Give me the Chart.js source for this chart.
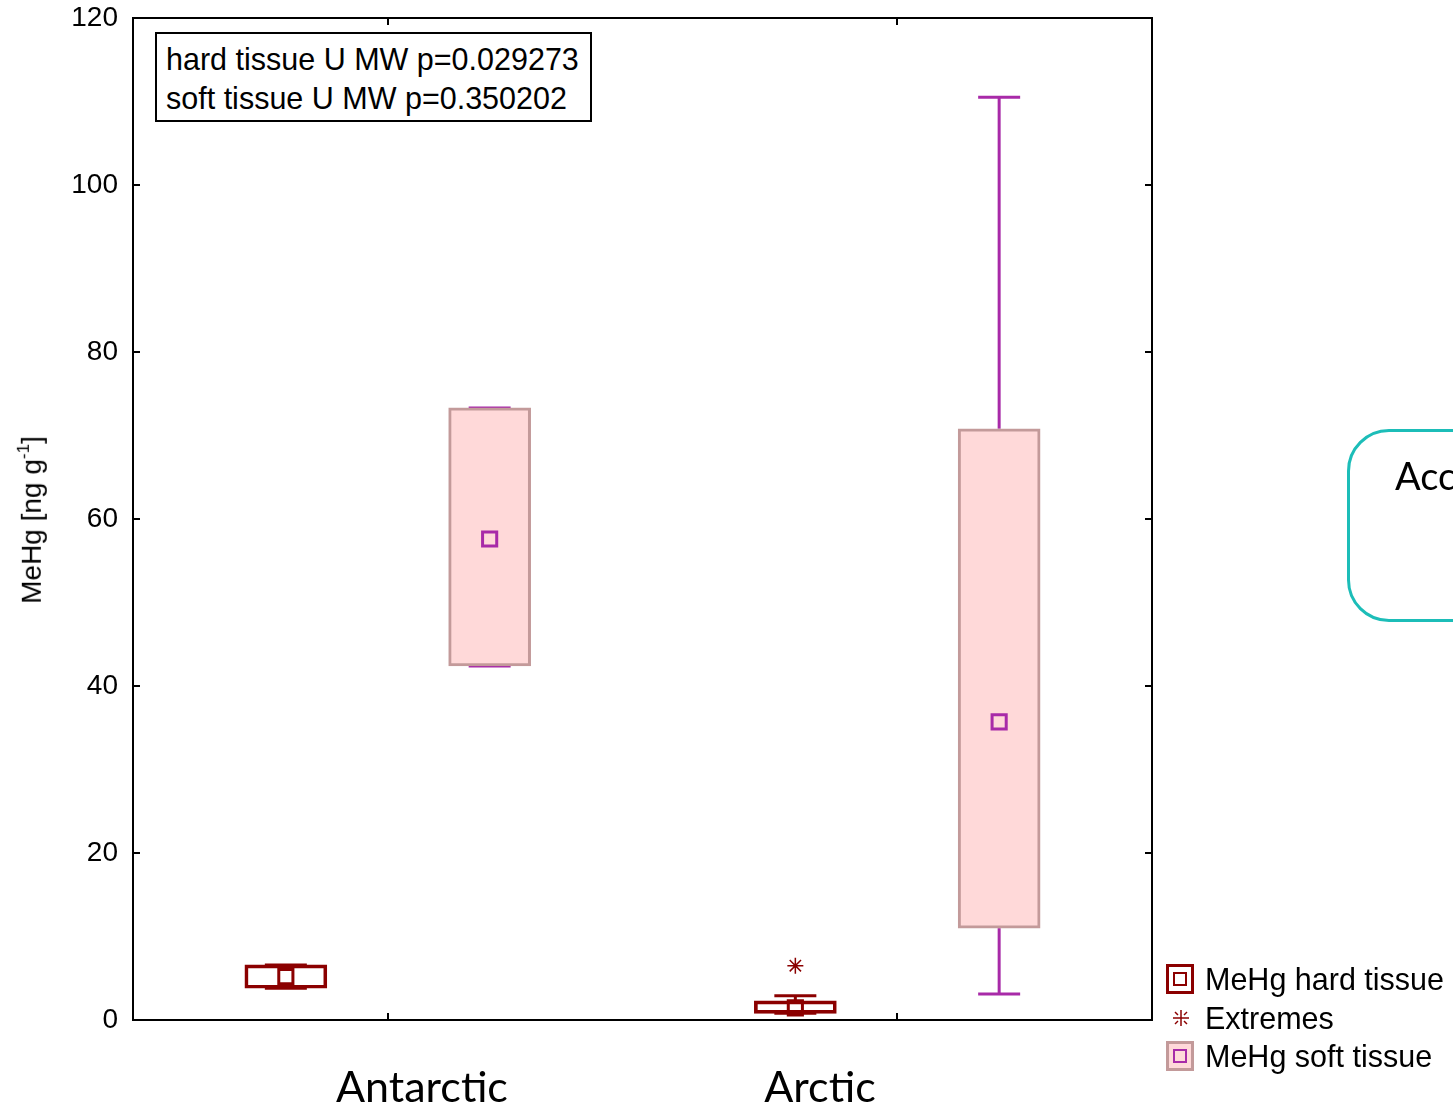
<!DOCTYPE html>
<html>
<head>
<meta charset="utf-8">
<script src="https://cdn.jsdelivr.net/npm/chart.js@4.4.1/dist/chart.umd.min.js"></script>
<style>
  html, body { margin:0; padding:0; background:#fff; width:1453px; height:1108px; overflow:hidden; }
  #wrap { position:absolute; left:0; top:0; width:1453px; height:1108px; }
  canvas { position:absolute; left:0; top:0; }
  #note { position:absolute; left:155px; top:32px; width:433px; height:86px; border:2px solid #000; background:#fff; box-sizing:content-box; }
  #note div { position:absolute; left:9px; font-family:"Liberation Sans", Arial, sans-serif; font-size:30.5px; line-height:30px; white-space:nowrap; }
  #ylab { position:absolute; left:32px; top:520px; transform:translate(-50%,-50%) rotate(-90deg); font-family:"Liberation Sans", Arial, sans-serif; font-size:28px; white-space:nowrap; }
  #ylab sup { font-size:17px; position:relative; top:-2px; }
  .cat { position:absolute; top:1060px; font-family:Lato, "Open Sans", sans-serif; font-size:43px; transform:translateX(-50%); white-space:nowrap; }
  .leg { position:absolute; font-family:"Liberation Sans", Arial, sans-serif; font-size:30.5px; white-space:nowrap; transform:translateY(-50%); }
  .icon { position:absolute; box-sizing:border-box; }
  #callout { position:absolute; left:1347px; top:429px; width:200px; height:193px; border:3px solid #1CBDB8; border-radius:42px; box-sizing:border-box; }
  #callout span { position:absolute; left:45px; top:20px; font-family:Lato, "Open Sans", sans-serif; font-size:38px; }
</style>
</head>
<body>
<div id="wrap">
  <canvas id="c" width="1453" height="1108"></canvas>
</div>
<script>
// ---- data ----
const categories = ['Antarctic', 'Arctic'];
const seriesNames = ['MeHg hard tissue', 'MeHg soft tissue'];
const hardQ1 = [3.8, 0.8];
const hardQ3 = [6.6, 2.3];
const hardMedian = [5.2, 1.45];
const hardMin = [3.8, 0.8];
const hardMax = [6.6, 2.9];
const hardExtremes = [null, 6.5];
const softQ1 = [42.4, 11.0];
const softQ3 = [73.3, 70.8];
const softMedian = [57.6, 35.7];
const softMin = [42.4, 3.1];
const softMax = [73.3, 110.5];
const yTicks = [0, 20, 40, 60, 80, 100, 120];
const noteLines = ['hard tissue U MW p=0.029273', 'soft tissue U MW p=0.350202'];
const yTitle = 'MeHg [ng g';

// ---- styling ----
const HARD = '#8B0000';
const SOFT_FILL = '#FFD9D9';
const SOFT_EDGE = '#C39A9A';
const SOFT_MARK = '#A82AA8';
const GROUP_OFFSET = 0.2;

const catPos = categories.map((c, i) => i + 0.5);
const hardPos = catPos.map(p => p - GROUP_OFFSET);
const softPos = catPos.map(p => p + GROUP_OFFSET);

const framePlugin = {
  id: 'frame',
  beforeDatasetsDraw(chart) {
    const ctx = chart.ctx, y = chart.scales.y, x = chart.scales.x;
    const draw = (pos, q1, q3, mn, mx, color) => {
      ctx.save();
      ctx.strokeStyle = color; ctx.lineWidth = 3;
      for (let i = 0; i < pos.length; i++) {
        const px = x.getPixelForValue(pos[i]);
        [[q3[i], mx[i]], [q1[i], mn[i]]].forEach(([a, b]) => {
          ctx.beginPath();
          ctx.moveTo(px, y.getPixelForValue(a));
          ctx.lineTo(px, y.getPixelForValue(b));
          ctx.stroke();
          ctx.beginPath();
          ctx.moveTo(px - 21, y.getPixelForValue(b));
          ctx.lineTo(px + 21, y.getPixelForValue(b));
          ctx.stroke();
        });
      }
      ctx.restore();
    };
    draw(hardPos, hardQ1, hardQ3, hardMin, hardMax, HARD);
    draw(softPos, softQ1, softQ3, softMin, softMax, SOFT_MARK);
  },
  afterDraw(chart) {
    const ctx = chart.ctx, a = chart.chartArea, y = chart.scales.y, x = chart.scales.x;
    ctx.save();
    ctx.strokeStyle = '#000'; ctx.lineWidth = 2;
    ctx.strokeRect(a.left, a.top, a.right - a.left, a.bottom - a.top);
    ctx.beginPath();
    yTicks.forEach(v => {
      const py = Math.round(y.getPixelForValue(v));
      ctx.moveTo(a.left, py); ctx.lineTo(a.left + 7, py);
      ctx.moveTo(a.right, py); ctx.lineTo(a.right - 7, py);
    });
    catPos.forEach(p => {
      const px = Math.round(x.getPixelForValue(p));
      ctx.moveTo(px, a.top); ctx.lineTo(px, a.top + 7);
      ctx.moveTo(px, a.bottom); ctx.lineTo(px, a.bottom - 7);
    });
    ctx.stroke();
    ctx.restore();
  }
};

new Chart(document.getElementById('c'), {
  type: 'bar',
  data: {
    datasets: [
      {
        label: seriesNames[0],
        data: categories.map((c, i) => ({ x: hardPos[i], y: [hardQ1[i], hardQ3[i]] })),
        backgroundColor: 'rgba(255,255,255,0)',
        borderColor: HARD, borderWidth: 3, borderSkipped: false,
        barThickness: 82, grouped: false, order: 3
      },
      {
        label: seriesNames[1],
        data: categories.map((c, i) => ({ x: softPos[i], y: [softQ1[i], softQ3[i]] })),
        backgroundColor: SOFT_FILL,
        borderColor: SOFT_EDGE, borderWidth: 3, borderSkipped: false,
        barThickness: 82, grouped: false, order: 3
      },
      {
        type: 'scatter', label: 'hard median',
        data: categories.map((c, i) => ({ x: hardPos[i], y: hardMedian[i] })),
        pointStyle: 'rect', pointRadius: 10, pointBorderWidth: 3,
        pointBorderColor: HARD, pointBackgroundColor: 'rgba(0,0,0,0)', showLine: false, order: 1
      },
      {
        type: 'scatter', label: 'soft median',
        data: categories.map((c, i) => ({ x: softPos[i], y: softMedian[i] })),
        pointStyle: 'rect', pointRadius: 10, pointBorderWidth: 3,
        pointBorderColor: SOFT_MARK, pointBackgroundColor: 'rgba(0,0,0,0)', showLine: false, order: 1
      },
      {
        type: 'scatter', label: 'Extremes',
        data: categories.map((c, i) => hardExtremes[i] === null ? null : ({ x: hardPos[i], y: hardExtremes[i] })).filter(p => p),
        pointStyle: 'star', pointRadius: 8, pointBorderWidth: 1.5,
        pointBorderColor: HARD, pointBackgroundColor: HARD, showLine: false, order: 1
      }
    ]
  },
  options: {
    responsive: false,
    animation: false,
    layout: { padding: { left: 0, top: 18, right: 301, bottom: 0 } },
    plugins: { legend: { display: false }, tooltip: { enabled: false } },
    scales: {
      x: {
        type: 'linear', min: 0, max: categories.length, offset: false,
        grid: { display: false, drawTicks: false },
        border: { display: false },
        ticks: { display: false },
        afterFit(s) { s.height = 88; s.paddingLeft = 0; s.paddingRight = 0; }
      },
      y: {
        min: 0, max: 120,
        afterBuildTicks(s) { s.ticks = yTicks.map(v => ({ value: v })); },
        grid: { display: false, drawTicks: false },
        border: { display: false },
        ticks: { color: '#000', padding: 15, font: { family: '"Liberation Sans", Arial, sans-serif', size: 28 } },
        afterFit(s) { s.width = 133; s.paddingTop = 0; s.paddingBottom = 0; }
      }
    }
  },
  plugins: [framePlugin]
});

// ---- HTML overlays (text) ----
const wrap = document.getElementById('wrap');
const note = document.createElement('div');
note.id = 'note';
noteLines.forEach((t, i) => {
  const d = document.createElement('div');
  d.textContent = t; d.style.top = (10 + i * 39) + 'px';
  note.appendChild(d);
});
wrap.appendChild(note);

const yl = document.createElement('div');
yl.id = 'ylab';
yl.innerHTML = yTitle + '<sup>-1</sup>]';
wrap.appendChild(yl);

const catX = [422, 820];
categories.forEach((c, i) => {
  const d = document.createElement('div');
  d.className = 'cat'; d.textContent = c; d.style.left = catX[i] + 'px';
  wrap.appendChild(d);
});

// legend
const legItems = [
  { text: seriesNames[0], y: 979, kind: 'hard' },
  { text: 'Extremes', y: 1018, kind: 'ext' },
  { text: seriesNames[1], y: 1056, kind: 'soft' }
];
legItems.forEach(it => {
  const t = document.createElement('div');
  t.className = 'leg'; t.textContent = it.text;
  t.style.left = '1205px'; t.style.top = it.y + 'px';
  wrap.appendChild(t);
  if (it.kind === 'ext') {
    const s = document.createElement('div');
    s.className = 'icon';
    s.style.left = '1172px'; s.style.top = (it.y - 9) + 'px';
    s.style.width = '18px'; s.style.height = '18px';
    s.innerHTML = '<svg width="18" height="18"><g stroke="' + HARD + '" stroke-width="1.5"><line x1="9" y1="1" x2="9" y2="17"/><line x1="1" y1="9" x2="17" y2="9"/><line x1="3" y1="3" x2="6" y2="6"/><line x1="12" y1="12" x2="15" y2="15"/><line x1="15" y1="3" x2="12" y2="6"/><line x1="3" y1="15" x2="6" y2="12"/></g></svg>';
    wrap.appendChild(s);
  } else {
    const box = document.createElement('div');
    box.className = 'icon';
    box.style.left = '1166px'; box.style.top = (it.y - 15) + 'px';
    box.style.width = '28px'; box.style.height = '30px';
    box.style.border = '3px solid ' + (it.kind === 'hard' ? HARD : SOFT_EDGE);
    box.style.background = it.kind === 'hard' ? '#fff' : SOFT_FILL;
    const inner = document.createElement('div');
    inner.className = 'icon';
    inner.style.left = '4px'; inner.style.top = '5px';
    inner.style.width = '14px'; inner.style.height = '14px';
    inner.style.border = '2.5px solid ' + (it.kind === 'hard' ? HARD : SOFT_MARK);
    box.appendChild(inner);
    wrap.appendChild(box);
  }
});

const co = document.createElement('div');
co.id = 'callout';
co.innerHTML = '<span>Acc</span>';
wrap.appendChild(co);
</script>
</body>
</html>
